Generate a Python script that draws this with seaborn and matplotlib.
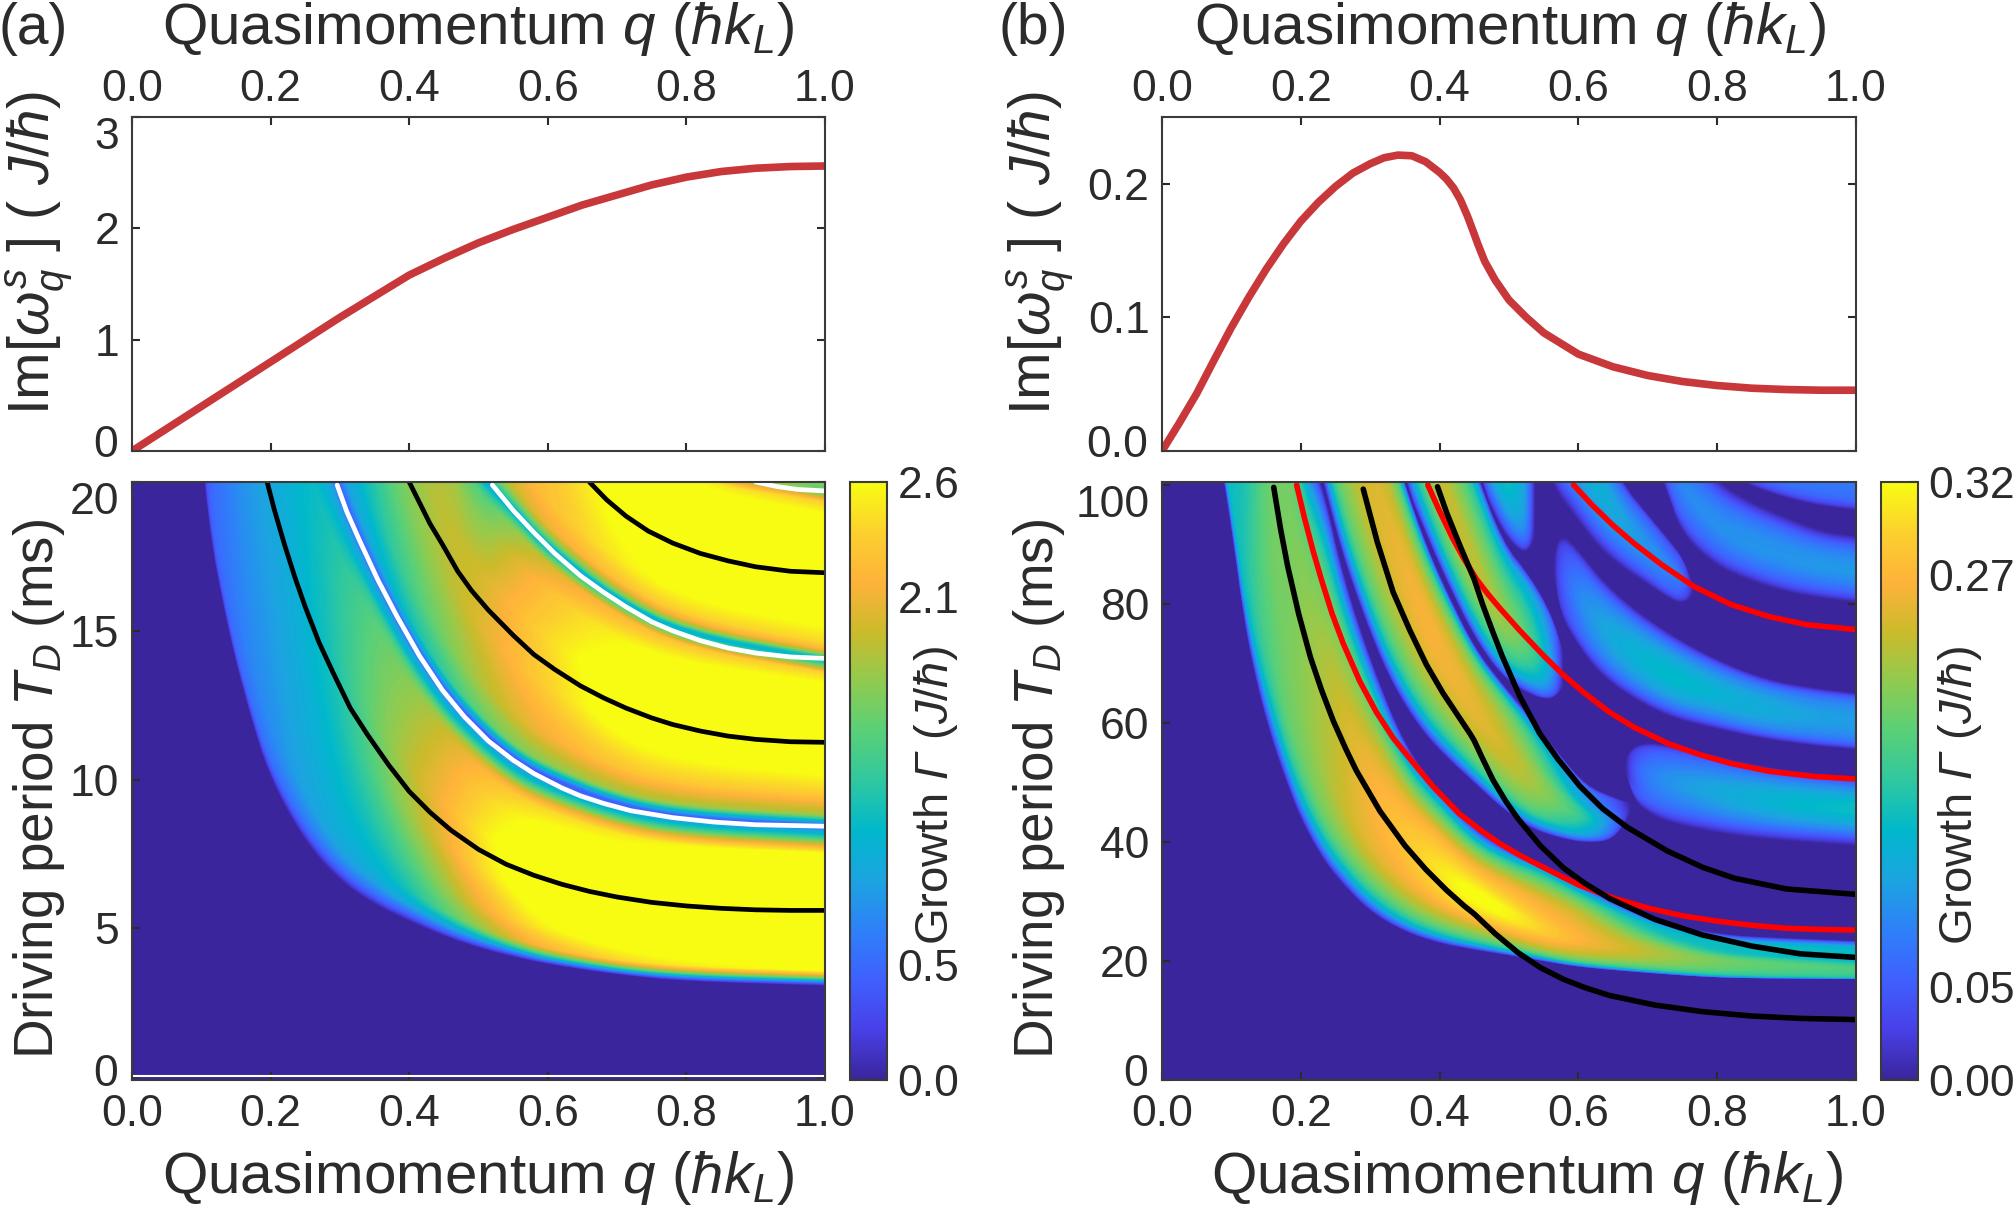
import numpy as np
import matplotlib
matplotlib.use("Agg")
import matplotlib.pyplot as plt
from matplotlib.cm import ScalarMappable
from matplotlib.colors import Normalize
import seaborn as sns

# ---- top curves
top_q = [0, .05, .1, .15, .2, .25, .3, .35, .4, .45, .5, .55, .6, .65, .7, .75, .8, .85, .9, .95, 1]
top_a = [0, .2, .4, .6, .8, 1.0, 1.2, 1.39, 1.58, 1.73, 1.87, 1.99, 2.1, 2.21, 2.3, 2.39, 2.46, 2.51, 2.54, 2.555, 2.56]
top_b_q = [0, .025, .05, .075, .1, .125, .15, .175, .2, .225, .25, .275, .3, .32, .34, .36, .38, .4, .41, .42, .43,
           .44, .448, .455, .465, .48, .5, .525, .55, .6, .65, .7, .75, .8, .85, .9, .95, 1]
top_b = [0, .021, .043, .068, .0925, .115, .136, .155, .172, .186, .198, .208, .215, .2195, .2215, .221, .2165, .2085,
         .2035, .197, .188, .176, .165, .155, .142, .128, .113, .1, .0885, .0725, .063, .0565, .052, .049, .047, .046,
         .0455, .0455]

# ---- colour bar colours, bottom to top
bar_colors = ["#3A259C", "#4840E8", "#4060FF", "#2E80F8", "#1CA4E0", "#00B8CC", "#2EC8A0", "#58D078",
              "#8FCB50", "#CBBB2B", "#FFB23A", "#FBD02E", "#F8FC12"]

# ---- panel a resonance lines
a_black1_q = [.195, .205, .22, .235, .25, .27, .29, .315, .34, .37, .4, .43, .46, .5, .54, .58, .62, .66, .7, .75, .8, .85, .9, .95, 1]
a_black1_T = [20, 19.1, 17.9, 16.8, 15.8, 14.6, 13.6, 12.4, 11.5, 10.5, 9.6, 8.9, 8.3, 7.65, 7.15, 6.78, 6.48, 6.24, 6.05, 5.87, 5.75, 5.67, 5.62, 5.6, 5.6]
a_black2_q = [.4, .415, .43, .448, .47, .49, .514, .55, .58, .61, .647, .68, .713, .75, .78, .82, .86, .9, .95, 1]
a_black2_T = [20, 19.3, 18.6, 17.9, 17.0, 16.35, 15.7, 14.85, 14.2, 13.7, 13.15, 12.75, 12.4, 12.07, 11.85, 11.63, 11.46, 11.35, 11.27, 11.25]
a_black3_q = [.66, .685, .713, .745, .78, .82, .86, .9, .95, 1]
a_black3_T = [20, 19.4, 18.85, 18.35, 17.95, 17.6, 17.35, 17.15, 17, 16.95]
a_white1_q = [0, 1]
a_white1_T = [.04, .04]
a_white2_q = [.296, .31, .329, .355, .382, .415, .448, .48, .514, .55, .58, .62, .647, .68, .72, .78, .84, .9, 1]
a_white2_T = [19.9, 19.0, 18, 16.7, 15.5, 14.15, 13, 12.1, 11.3, 10.65, 10.2, 9.72, 9.45, 9.2, 8.95, 8.72, 8.57, 8.48, 8.43]
a_white3_q = [.52, .55, .58, .61, .647, .68, .713, .75, .78, .82, .86, .9, .95, 1]
a_white3_T = [19.9, 19.05, 18.3, 17.6, 16.85, 16.3, 15.8, 15.3, 15, 14.67, 14.42, 14.25, 14.12, 14.07]
a_white4_q = [.9, .93, .96, 1]
a_white4_T = [20, 19.85, 19.75, 19.7]

# ---- panel a growth map on curved rows
a_q = [.09, .11, .14, .17, .2, .25, .3, .35, .4, .45, .5, .55, .6, .7, .8, 1]
a_T = [
    [24, 18.5, 14.9, 12.2, 10, 7.9, 6.6, 5.8, 5.25, 4.75, 4.35, 4.05, 3.8, 3.45, 3.22, 3.08],
    [24.6, 19, 15.3, 12.6, 10.4, 8.3, 6.95, 6.1, 5.5, 4.95, 4.52, 4.2, 3.92, 3.55, 3.33, 3.2],
    [26, 20, 16.2, 13.3, 11.1, 9.0, 7.5, 6.6, 5.9, 5.3, 4.8, 4.42, 4.12, 3.74, 3.53, 3.4],
    [28, 21.5, 17.4, 14.3, 12, 9.8, 8.2, 7.2, 6.4, 5.7, 5.12, 4.72, 4.4, 4.0, 3.8, 3.65],
    [44, 34, 27.5, 23, 19.6, 15.8, 13.1, 11.2, 9.6, 8.5, 7.65, 7.1, 6.7, 6.05, 5.75, 5.6],
    [58, 45.6, 36, 29.8, 25.5, 20.5, 17.2, 14.9, 12.9, 11.37, 10.27, 9.4, 8.82, 8.03, 7.64, 7.4],
    [60.7, 47.8, 37.7, 31.2, 26.7, 21.5, 18.0, 15.6, 13.5, 11.9, 10.75, 9.83, 9.24, 8.41, 8.0, 7.75],
    [62.6, 49.3, 38.9, 32.3, 27.5, 22.2, 18.6, 16.1, 13.95, 12.29, 11.1, 10.15, 9.54, 8.68, 8.26, 8.0],
    [64.6, 50.9, 40.1, 33.3, 28.4, 22.9, 19.2, 16.6, 14.4, 12.68, 11.45, 10.48, 9.84, 8.96, 8.52, 8.25],
    [66, 52, 41, 34, 29, 23.4, 19.6, 17, 14.7, 12.95, 11.7, 10.7, 10.05, 9.15, 8.7, 8.43],
    [67.3, 53, 41.8, 34.7, 29.6, 23.9, 20, 17.3, 15, 13.2, 11.93, 10.91, 10.25, 9.33, 8.87, 8.6],
    [69.7, 54.9, 43.3, 35.9, 30.6, 24.7, 20.7, 17.95, 15.5, 13.68, 12.36, 11.3, 10.61, 9.66, 9.19, 8.9],
    [90, 70, 55, 45, 39, 31, 26, 22.6, 20, 17.8, 16.2, 14.9, 13.9, 12.6, 11.8, 11.25],
    [108, 84, 66, 54, 46.8, 37.2, 31.2, 27.1, 24, 21.4, 19.5, 18.3, 17.1, 15.4, 14.3, 13.5],
    [110, 86, 68, 55, 48, 38.4, 32, 27.7, 24.6, 21.9, 20, 18.8, 17.5, 15.8, 14.66, 13.85],
    [112, 87.5, 69, 56, 49, 39, 32.5, 28.2, 25, 22.3, 20.3, 19.1, 17.8, 16.05, 14.9, 14.07],
    [114, 89, 70, 57, 50, 39.6, 33, 28.7, 25.4, 22.7, 20.6, 19.4, 18.1, 16.3, 15.14, 14.3],
    [117, 91.4, 72, 58.5, 51.2, 40.8, 34, 29.5, 26.1, 23.3, 21.2, 20, 18.6, 16.8, 15.6, 14.7],
    [136, 106, 84, 68, 59, 47, 39.5, 34, 30, 27, 24.7, 23, 21.6, 19.1, 17.8, 16.9],
    [155, 120, 96, 78, 67, 54, 45, 39, 34.5, 31, 28.2, 26.2, 24.4, 21.7, 19.9, 19.2],
    [160, 124, 99, 80, 69, 55.5, 46.2, 40, 35.4, 31.8, 29, 27, 25, 22.3, 20.4, 19.7],
    [165, 128, 102, 82, 71, 57, 47.6, 41.2, 36.5, 32.8, 29.9, 27.8, 25.8, 23, 21, 20.3],
]
a_G = [
    [0] * 16,
    [0, .4, .5, .5, .5, .5, .5, .5, .5, .55, .55, .55, .6, .6, .6, .6],
    [0, .5, .55, .6, .65, .75, .85, .9, 1.0, 1.1, 1.2, 1.4, 1.6, 1.8, 1.9, 2.0],
    [0, .5, .6, .7, .75, .9, 1.0, 1.05, 1.25, 1.6, 1.9, 2.2, 2.4, 2.6, 2.7, 2.8],
    [0, .6, .8, .85, .9, 1.05, 1.25, 1.6, 1.95, 2.2, 2.55, 2.8, 3, 3, 3, 3],
    [0, .6, .85, .95, 1.0, 1.1, 1.3, 1.55, 1.75, 2.0, 2.25, 2.45, 2.55, 2.6, 2.7, 2.8],
    [0, .6, .85, .95, 1.0, 1.0, 1.15, 1.45, 1.6, 1.85, 1.95, 2.0, 2.05, 2.15, 2.15, 2.15],
    [0, .6, .8, .9, .9, .9, 1.0, 1.1, 1.2, 1.25, 1.3, 1.3, 1.35, 1.4, 1.4, 1.4],
    [0, .5, .7, .7, .7, .7, .75, .75, .8, .85, .85, .85, .85, .9, .9, .9],
    [0, .3, .35, .35, .35, .35, .3, .25, .25, .2, .2, .2, .25, .3, .3, .3],
    [0, .4, .5, .55, .55, .55, .6, .7, .7, .75, .85, .9, .9, .95, .95, .95],
    [0, .6, .7, .8, .8, .8, .9, 1.1, 1.3, 1.5, 1.75, 1.9, 2.0, 2.1, 2.1, 2.1],
    [0, .8, .9, 1, 1, 1, 1.1, 1.5, 1.75, 1.95, 2.1, 2.3, 2.5, 2.9, 3, 3],
    [0, .8, .9, 1, 1, 1, 1.1, 1.5, 1.7, 1.85, 1.5, 1.9, 2.2, 2.45, 2.6, 2.7],
    [0, .6, .7, .8, .8, .8, .9, 1.1, 1.2, 1.3, 1.2, 1.3, 1.4, 1.5, 1.5, 1.4],
    [0, .4, .5, .5, .5, .5, .6, .7, .7, .8, .8, .75, .7, .8, .85, .9],
    [0, .6, .7, .8, .8, .8, .9, 1, 1.1, 1.3, 1.4, 1.5, 1.6, 1.8, 2.0, 2.1],
    [0, .8, .9, 1, 1, 1, 1.1, 1.3, 1.4, 1.6, 1.7, 2.1, 2.25, 2.45, 2.5, 2.5],
    [0, 1, 1, 1.2, 1.2, 1.3, 1.4, 1.6, 1.8, 2, 2.1, 2.2, 2.3, 2.7, 3, 3],
    [0, 1, 1, 1.2, 1.2, 1.3, 1.4, 1.6, 1.8, 2, 2.1, 2.2, 2.3, 2.7, 2.7, 2.7],
    [0, 1, 1, 1.2, 1.2, 1.3, 1.4, 1.6, 1.8, 2, 2.1, 2.2, 2.3, 2.5, 2.0, 1.3],
    [0, 1, 1, 1.2, 1.2, 1.3, 1.4, 1.6, 1.8, 2, 2.1, 2.2, 2.3, 2.5, 2.2, 2.2],
]

# ---- panel b resonance lines
b_red1_q = [.194, .205, .2175, .23, .245, .261, .285, .309, .333, .36, .39, .429, .46, .486, .515, .55, .6, .65, .7, .75, .8, .85, .9, .95, 1]
b_red1_T = [100, 94.6, 89, 84, 78.4, 73.4, 67, 61.8, 57.5, 53.6, 49.4, 44.7, 41.9, 39.8, 37.8, 35.7, 32.8, 30.6, 28.9, 27.6, 26.7, 26, 25.5, 25.3, 25.2]
b_red2_q = [.383, .4, .419, .435, .453, .47, .486, .515, .55, .578, .61, .645, .68, .73, .777, .82, .874, .94, 1]
b_red2_T = [100, 95.6, 91, 87.6, 84.2, 81.6, 79.4, 75.6, 71.3, 68.1, 64.9, 61.8, 59.3, 56.5, 54.6, 53.2, 51.9, 51, 50.6]
b_red3_q = [.593, .62, .65, .68, .72, .767, .82, .874, .93, 1]
b_red3_T = [100, 96.6, 93.2, 90.2, 86.6, 82.9, 79.9, 77.9, 76.5, 75.7]
b_black1_q = [.161, .171, .181, .197, .214, .23, .247, .265, .28, .314, .35, .38, .41, .435, .45, .46, .48, .513, .545, .579, .61, .645, .71, .778, .85, .92, 1]
b_black1_T = [99.6, 92.5, 86.4, 78.3, 71, 65.5, 60.3, 55.6, 52, 45.2, 39.4, 35.4, 31.9, 29.3, 27.9, 26.8, 24.6, 21.4, 18.9, 16.9, 15.5, 14.2, 12.6, 11.5, 10.75, 10.35, 10.15]
b_black2_q = [.29, .31, .333, .357, .381, .405, .429, .445, .45, .462, .477, .495, .513, .545, .579, .61, .645, .71, .778, .85, .92, 1]
b_black2_T = [99.3, 90.5, 82, 75.6, 69.8, 65, 60.8, 58, 57, 54, 50.4, 46.9, 43.9, 39.4, 35.6, 33, 30.5, 27, 24.4, 22.5, 21.2, 20.6]
b_black3_q = [.397, .41, .429, .45, .462, .477, .49, .515, .544, .57, .602, .635, .67, .728, .78, .825, .9, 1]
b_black3_T = [99.7, 95.4, 89.9, 84.1, 79.9, 75.2, 71.3, 64.6, 58.3, 54, 49.4, 45.6, 42.5, 38.5, 35.7, 33.9, 32.1, 31.2]

# ---- panel b main band
main_q = [.085, .1, .12, .14, .16, .18, .2, .23, .26, .3, .35, .4, .45, .5, .55, .6, .7, .8, .9, 1]
main_T = [
    [104, 93, 76, 65, 56.7, 50, 44, 37.5, 33, 28.3, 24.9, 23, 21.9, 21, 20, 19, 18, 17.2, 17.05, 17],
    [105.2, 94.4, 77.7, 66.8, 58.5, 51.5, 45.3, 38.6, 34, 29.1, 25.5, 23.5, 22.3, 21.3, 20.2, 19.2, 18.15, 17.3, 17.15, 17.07],
    [107.7, 97.2, 81, 70.4, 62, 54.4, 48, 40.9, 35.9, 30.7, 26.7, 24.4, 23, 21.8, 20.6, 19.5, 18.4, 17.55, 17.3, 17.2],
    [112, 102, 87, 76.7, 68.2, 59.6, 52.6, 44.9, 39.2, 33.6, 28.8, 26, 24.3, 22.8, 21.3, 20.1, 18.9, 18, 17.65, 17.47],
    [119, 110, 96, 86.6, 78, 67.8, 59.8, 51.2, 44.5, 38, 32.1, 28.5, 26.3, 24.3, 22.4, 21, 19.7, 18.6, 18.1, 17.86],
    [125, 117, 104.6, 95.6, 86.8, 75.2, 66.4, 56.9, 49.3, 42, 35.2, 30.8, 28.1, 25.6, 23.4, 21.9, 20.45, 19.2, 18.6, 18.2],
    [135, 128, 118, 110, 101, 87, 77, 66, 57, 48.5, 40, 34.5, 31, 27.8, 25, 23.2, 21.6, 20.2, 19.3, 18.8],
    [150, 140, 128, 120, 110, 95, 84, 72, 62, 53, 44, 38, 33.5, 30.3, 27.5, 25.5, 22.8, 20.7, 20, 19.4],
    [160, 150, 138, 130, 118, 102, 90, 78, 67, 58, 47.5, 41, 36, 33, 30.5, 28, 24.2, 21.2, 20.7, 20],
    [172, 160, 150, 140, 128, 110, 96, 85, 73, 62, 50.5, 44, 38.5, 35.3, 33, 30, 25.2, 22, 21.5, 20.7],
    [180, 170, 158, 148, 135, 117, 101, 92, 79, 66, 53, 46.2, 40, 37, 34.8, 31.5, 26, 23, 22.7, 22],
    [186, 175, 164, 153, 140, 122, 106, 98, 83, 69, 55, 47.8, 41.5, 38, 35.8, 32.5, 26.7, 24, 23.4, 23],
    [190, 178, 168, 156, 143, 125, 109, 100.5, 85, 70.5, 56, 48.5, 42, 38.6, 36.3, 33.2, 27, 24.4, 23.8, 23.3],
]
main_G = [
    [0] * 20,
    [.06] * 20,
    [.14] * 20,
    [.13, .14, .15, .17, .18, .19, .19, .2, .2, .2, .2, .2, .2, .2, .2, .19, .18, .17, .165, .16],
    [.13, .14, .15, .18, .19, .2, .205, .22, .235, .25, .25, .25, .25, .25, .245, .23, .21, .185, .175, .17],
    [.12, .135, .145, .18, .2, .2, .21, .225, .24, .26, .27, .285, .295, .285, .265, .25, .225, .195, .18, .175],
    [.12, .13, .14, .18, .2, .2, .21, .225, .24, .265, .285, .31, .335, .325, .295, .27, .235, .2, .19, .18],
    [.12, .13, .14, .18, .2, .2, .21, .225, .245, .26, .275, .295, .3, .29, .275, .26, .22, .18, .17, .16],
    [.12, .13, .14, .18, .2, .2, .2, .215, .23, .235, .25, .265, .26, .26, .25, .245, .17, .15, .13, .13],
    [.12, .13, .14, .17, .19, .18, .18, .19, .205, .2, .2, .2, .2, .2, .2, .2, .14, .14, .14, .13],
    [.14] * 20,
    [.06] * 20,
    [0] * 20,
]

# ---- panel b second band
second_q = [.2, .234, .26, .288, .32, .35, .38, .41, .45, .49, .53, .57, .61, .65, .675]
second_T = [
    [115, 100, 88.5, 79, 69.5, 63, 58, 54.3, 50, 45.7, 42.4, 40.8, 39.9, 40.3, 45],
    [116.7, 101.7, 90, 80.4, 70.8, 64.1, 59, 55.1, 50.7, 46.3, 43, 41.2, 40.2, 40.5, 45],
    [120, 105, 93.1, 83.1, 73.3, 66.3, 60.9, 56.8, 52, 47.6, 44.1, 42.1, 40.8, 41, 45.1],
    [126, 111, 98.8, 88.2, 78, 70.4, 64.4, 59.8, 54.5, 49.9, 46.1, 43.6, 41.8, 41.7, 45.3],
    [139.8, 124.8, 111.7, 99.7, 88.6, 79.7, 72.4, 66.8, 60.2, 55.1, 50.8, 47.2, 44.2, 43.5, 45.7],
    [153.5, 138.5, 124.6, 111.2, 99.3, 88.9, 80.4, 73.7, 65.8, 60.3, 55.4, 50.7, 46.6, 45.3, 46],
    [162.9, 147.9, 133.3, 119, 106.5, 95.2, 85.8, 78.4, 69.7, 63.8, 58.6, 53.1, 48.3, 46.6, 46.3],
    [167.3, 152.3, 137.4, 122.7, 109.9, 98.2, 88.4, 80.6, 71.5, 65.5, 60.1, 54.3, 49, 47.1, 46.4],
    [170, 155, 140, 125, 112, 100, 90, 82, 72.6, 66.5, 61, 55, 49.5, 47.5, 46.5],
]
second_G = [
    [0] * 15,
    [.06, .06, .06, .06, .06, .06, .06, .06, .06, .06, .06, .06, .05, .03, 0],
    [.14, .14, .14, .14, .14, .14, .14, .14, .14, .14, .14, .12, .1, .05, 0],
    [.16, .2, .2, .2, .2, .2, .2, .2, .2, .2, .2, .17, .13, .07, 0],
    [.17, .22, .235, .245, .25, .255, .26, .26, .255, .25, .235, .205, .17, .08, 0],
    [.17, .22, .24, .245, .25, .26, .265, .26, .25, .23, .2, .15, .1, .06, 0],
    [.18, .2, .2, .2, .2, .2, .2, .2, .2, .19, .16, .12, .08, .05, 0],
    [.14, .14, .14, .14, .14, .14, .14, .14, .13, .12, .1, .08, .06, .04, 0],
    [0] * 15,
]

# ---- panel b third band
third_q = [.3, .352, .38, .41, .45, .49, .53, .56, .578]
third_T = [
    [125, 100, 92, 84, 74.5, 67.8, 64.8, 63.8, 66],
    [126.8, 101.5, 93.2, 85, 75.4, 68.5, 65.4, 64.2, 66.2],
    [131, 105, 96, 87.3, 77.4, 70.1, 66.8, 65.3, 66.6],
    [137, 110, 100, 90.6, 80.2, 72.3, 68.8, 66.7, 67.2],
    [149, 120, 108, 97.2, 85.9, 76.9, 72.8, 69.7, 68.4],
    [165.8, 134, 119.2, 106.4, 93.9, 83.2, 78.3, 73.8, 70.1],
    [179, 145, 128, 113.7, 100.2, 88.2, 82.7, 77, 71.4],
    [183.2, 148.5, 130.8, 116, 102.2, 89.8, 84.1, 78.1, 71.8],
    [185, 150, 132, 117, 103, 90.5, 84.7, 78.5, 72],
]
third_G = [
    [0] * 9,
    [.06, .06, .06, .06, .06, .06, .05, .05, 0],
    [.14, .14, .14, .14, .14, .13, .11, .08, 0],
    [.19, .19, .19, .19, .19, .18, .16, .1, 0],
    [.22, .24, .245, .25, .245, .23, .19, .12, 0],
    [.19, .2, .2, .2, .2, .19, .16, .1, 0],
    [.14, .14, .14, .14, .14, .13, .11, .08, 0],
    [.06, .06, .06, .06, .06, .06, .05, .04, 0],
    [0] * 9,
]

# ---- panel b short band at the top
fourth_q = [.42, .46, .49, .51, .525, .537]
fourth_T = [
    [122, 100, 92.5, 89.5, 88.6, 91],
    [124, 102, 94.2, 91, 89.6, 91.8],
    [129, 107.5, 99, 94.8, 92.5, 93.8],
    [141, 120, 109.5, 104, 99.2, 98.6],
    [170, 150, 135, 125, 115, 110],
]
fourth_G = [
    [0] * 6,
    [.06, .06, .06, .06, .05, 0],
    [.14, .14, .14, .12, .09, 0],
    [.17, .17, .17, .14, .1, 0],
    [.15, .15, .15, .12, .08, 0],
]

# ---- panel b islands on the right
fifth_q = [.565, .575, .6, .63, .67, .73, .8, .87, .94, 1]
fifth_T = [
    [85, 78, 73, 68.4, 64.8, 61, 59, 57.3, 56.2, 55.6],
    [85.3, 79.4, 74.6, 70, 66.3, 62.4, 60.2, 58.3, 57.2, 56.5],
    [85.75, 81.5, 77, 72.4, 68.6, 64.5, 61.9, 59.8, 58.6, 58],
    [86.5, 85, 81, 76.5, 72.4, 68, 64.8, 62.3, 61, 60.3],
    [87.25, 88.5, 85, 80.5, 76.2, 71.5, 67.6, 64.8, 63.4, 62.7],
    [87.7, 90.6, 87.4, 83, 78.5, 73.6, 69.4, 66.3, 64.8, 64.1],
    [88, 92, 89, 84.5, 80, 75, 70.5, 67.3, 65.8, 65],
]
fifth_G = [
    [0] * 10,
    [0, .03, .05, .05, .06, .06, .06, .06, .06, .06],
    [0, .04, .07, .09, .1, .11, .1, .1, .09, .09],
    [0, .05, .09, .11, .13, .145, .135, .12, .11, .105],
    [0, .04, .07, .09, .1, .11, .1, .1, .09, .09],
    [0, .03, .05, .05, .06, .06, .06, .06, .06, .06],
    [0] * 10,
]

sixth_q = [.52, .564, .6, .63, .665, .7, .73, .75, .765]
sixth_T = [
    [112, 99.5, 94, 89.4, 86, 83.4, 81, 80, 81.5],
    [115.4, 102.6, 96.5, 91.6, 87.7, 84.8, 82.2, 80.9, 81.7],
    [120.4, 107.2, 100.3, 95, 90.2, 86.9, 83.9, 82.3, 82],
    [127.4, 113.5, 105.6, 99.6, 93.7, 89.8, 86.4, 84.3, 82.3],
    [134.4, 119.9, 110.8, 104.3, 97.2, 92.7, 88.8, 86.2, 82.7],
    [138, 123.2, 113.5, 106.7, 99, 94.2, 90.1, 87.3, 82.9],
    [140, 125, 115, 108, 100, 95, 90.8, 87.8, 83],
]
sixth_G = [
    [0] * 9,
    [.05, .05, .05, .05, .05, .05, .05, .04, 0],
    [.1, .1, .1, .095, .085, .08, .07, .06, 0],
    [.13, .14, .14, .13, .115, .1, .09, .08, 0],
    [.1, .1, .1, .09, .08, .07, .06, .05, 0],
    [.05, .05, .05, .05, .05, .05, .04, .04, 0],
    [0] * 9,
]

seventh_q = [.7, .726, .75, .8, .85, .9, .95, 1]
seventh_T = [
    [108, 99.5, 91.5, 86.3, 83.8, 82, 81, 80.3],
    [110, 101.4, 93.5, 88, 85.4, 83.5, 82.3, 81.6],
    [113.1, 104.2, 96.6, 90.7, 87.8, 85.8, 84.4, 83.6],
    [116.5, 107.3, 99.8, 93.4, 90.4, 88.3, 86.6, 85.9],
    [121.6, 112, 104.6, 97.5, 94.4, 92, 90, 89.2],
    [125, 115, 108, 100.5, 97, 94.5, 92.2, 91.4],
]
seventh_G = [
    [0] * 8,
    [.05] * 8,
    [.07, .07, .075, .08, .085, .085, .085, .085],
    [.06, .08, .09, .095, .1, .1, .105, .105],
    [.05, .05, .06, .065, .07, .07, .07, .07],
    [0] * 8,
]

eighth_q = [.8, .845, .9, .95, 1]
eighth_T = [
    [103, 100, 97.8, 96.5, 95.8],
    [104, 101, 98.8, 97.5, 96.8],
    [106, 103, 100.8, 99.5, 98.8],
    [120, 118, 115, 113, 112],
]
eighth_G = [
    [0] * 5,
    [.05] * 5,
    [.075] * 5,
    [.09] * 5,
]

ninth_q = [.668, .68, .7, .73, .78, .83, .9, 1]
ninth_T = [
    [52, 47.2, 45, 43.3, 42, 41, 40.2, 39.4],
    [52.2, 48.3, 46.4, 44.8, 43.6, 42.5, 41.6, 40.8],
    [52.6, 49.8, 48.5, 47.2, 45.9, 44.8, 43.7, 42.8],
    [53.1, 52, 51.4, 50.4, 49.2, 47.9, 46.7, 45.7],
    [53.6, 54.2, 54.4, 53.6, 52.4, 51, 49.6, 48.5],
    [53.9, 55.4, 55.9, 55.3, 54.1, 52.6, 51.2, 50],
    [54, 56, 56.7, 56.2, 55, 53.5, 52, 50.8],
]
ninth_G = [
    [0] * 8,
    [0, .05, .05, .05, .05, .05, .05, .05],
    [0, .04, .07, .08, .09, .1, .105, .11],
    [0, .05, .08, .1, .115, .125, .14, .15],
    [0, .04, .06, .07, .08, .09, .1, .1],
    [0, .03, .04, .05, .05, .05, .05, .05],
    [0] * 8,
]

q_ticks = [0, .2, .4, .6, .8, 1]
q_labels = ["0.0", "0.2", "0.4", "0.6", "0.8", "1.0"]
INK = "#2b2b2b"
W, H = 2015, 1211


def px_axes(fig, left, top, right, bottom):
    return fig.add_axes([left / W, 1 - bottom / H, (right - left) / W, (bottom - top) / H])


def style_axes(ax):
    ax.tick_params(direction="in", length=6, width=1.5, top=True, right=True, bottom=True, left=True,
                   labelsize=TICK_SIZE, colors=INK)
    for s in ax.spines.values():
        s.set_visible(True)
        s.set_linewidth(1.5)
        s.set_color("#3a3a3a")
    ax.grid(False)


def round_off(a, axis):
    # cuts the corners of the drawn mesh so the map does not look faceted, the ends stay put
    a = np.moveaxis(a, axis, 0)
    first = .75 * a[:-1] + .25 * a[1:]
    second = .25 * a[:-1] + .75 * a[1:]
    mid = np.empty((first.shape[0] * 2,) + a.shape[1:])
    mid[0::2] = first
    mid[1::2] = second
    return np.moveaxis(np.concatenate([a[:1], mid, a[-1:]]), 0, axis)


def draw_band(ax, q, T, G, levels, cmap, vmax):
    X = np.tile(q, (len(T), 1)).astype(float)
    Y = np.array(T, dtype=float)
    Z = np.array(G, dtype=float)
    for axis in (1, 1, 0):
        X, Y, Z = round_off(X, axis), round_off(Y, axis), round_off(Z, axis)
    ax.contourf(X, Y, Z, levels=levels, cmap=cmap, vmin=0, vmax=vmax, extend="max")


def draw_line(ax, q, T, color, lw=3.4):
    sns.lineplot(x=q, y=T, color=color, linewidth=lw, estimator=None, sort=False, ax=ax, legend=False)


def zero_label(ax, text):
    # the reference lifts the lowest y label a little off the corner
    ax.annotate(text, xy=(0, 0), xycoords="axes fraction", xytext=(-10, 4), textcoords="offset points",
                ha="right", va="center", fontsize=TICK_SIZE, color=INK)


def top_panel(ax, q, y, ylim, yticks, ylabels):
    sns.lineplot(x=q, y=y, color="#C8383A", linewidth=5.5, estimator=None, sort=False, ax=ax, legend=False)
    ax.set_xlim(0, 1)
    ax.set_ylim(*ylim)
    style_axes(ax)
    ax.xaxis.tick_top()
    ax.tick_params(top=True, bottom=True, labeltop=True, labelbottom=False)
    ax.tick_params(axis="x", pad=5)
    ax.tick_params(axis="y", pad=9)
    ax.set_xticks(q_ticks, q_labels)
    ax.set_yticks(yticks, [""] + ylabels[1:])
    zero_label(ax, ylabels[0])
    ax.set_xlabel("")
    ax.set_ylabel("")
    if len(ylabels) == 4:
        ax.get_yticklabels()[-1].set_va("top")


def heat_panel(ax, ylim, yticks):
    ax.set_xlim(0, 1)
    ax.set_ylim(*ylim)
    style_axes(ax)
    ax.tick_params(axis="x", pad=10)
    ax.tick_params(axis="y", pad=9)
    ax.set_xticks(q_ticks, q_labels)
    ax.set_yticks(yticks, [""] + [str(t) for t in yticks[1:]])
    zero_label(ax, str(yticks[0]))
    ax.set_xlabel("")
    ax.set_ylabel("")
    ax.get_yticklabels()[-1].set_va("top")


def color_bar(fig, cax, cmap, vmax, ticks, labels):
    cb = fig.colorbar(ScalarMappable(Normalize(0, vmax), cmap), cax=cax)
    cb.set_ticks(ticks, labels=labels)
    cb.ax.tick_params(direction="in", length=6, width=1.5, labelsize=TICK_SIZE, colors=INK, pad=7.5)
    cb.outline.set_linewidth(1.5)
    cb.outline.set_edgecolor("#3a3a3a")


def label(fig, x, y, s, size, rotation=0):
    fig.text(x / W, 1 - y / H, s, rotation=rotation, ha="center", va="center", fontsize=size, color=INK)


sns.set_theme(style="ticks")
plt.rcParams["font.family"] = ["Liberation Sans", "DejaVu Sans"]
plt.rcParams["mathtext.fontset"] = "custom"
plt.rcParams["mathtext.rm"] = "Liberation Sans"
plt.rcParams["mathtext.it"] = "Liberation Sans:italic"
plt.rcParams["mathtext.cal"] = "Liberation Sans:italic"
plt.rcParams["mathtext.fallback"] = "stixsans"
TICK_SIZE = 32

cmap = sns.blend_palette(bar_colors, n_colors=256, as_cmap=True)
cmap.set_over(bar_colors[-1])
dark = bar_colors[0]

fig = plt.figure(figsize=(W / 100, H / 100), dpi=100)

# panel a
ax_top_a = px_axes(fig, 132, 117, 825, 451)
top_panel(ax_top_a, top_q, top_a, (0, 3), [0, 1, 2, 3], ["0", "1", "2", "3"])

ax_a = px_axes(fig, 132, 482, 825, 1080)
ax_a.set_facecolor(dark)
a_levels = np.linspace(.01, 2.6, 130)
draw_band(ax_a, a_q, a_T, a_G, a_levels, cmap, 2.6)
draw_line(ax_a, a_black1_q, a_black1_T, "black")
draw_line(ax_a, a_black2_q, a_black2_T, "black")
draw_line(ax_a, a_black3_q, a_black3_T, "black")
draw_line(ax_a, a_white1_q, a_white1_T, "white", lw=1.5)
draw_line(ax_a, a_white2_q, a_white2_T, "white")
draw_line(ax_a, a_white3_q, a_white3_T, "white")
draw_line(ax_a, a_white4_q, a_white4_T, "white")
heat_panel(ax_a, (-.1, 20), [0, 5, 10, 15, 20])

cax_a = px_axes(fig, 850, 482, 887, 1080)
color_bar(fig, cax_a, cmap, 2.6, [0, .5, 2.1, 2.6], ["0.0", "0.5", "2.1", "2.6"])

# panel b
ax_top_b = px_axes(fig, 1162, 117, 1856, 451)
top_panel(ax_top_b, top_b_q, top_b, (0, .25), [0, .1, .2], ["0.0", "0.1", "0.2"])

ax_b = px_axes(fig, 1162, 482, 1856, 1080)
ax_b.set_facecolor(dark)
b_levels = np.linspace(.001, .32, 130)
for q, T, G in [(main_q, main_T, main_G), (second_q, second_T, second_G), (third_q, third_T, third_G),
                (fourth_q, fourth_T, fourth_G), (fifth_q, fifth_T, fifth_G), (sixth_q, sixth_T, sixth_G),
                (seventh_q, seventh_T, seventh_G), (eighth_q, eighth_T, eighth_G), (ninth_q, ninth_T, ninth_G)]:
    draw_band(ax_b, q, T, G, b_levels, cmap, .32)
draw_line(ax_b, b_red1_q, b_red1_T, "#FF0000", lw=4)
draw_line(ax_b, b_red2_q, b_red2_T, "#FF0000", lw=4)
draw_line(ax_b, b_red3_q, b_red3_T, "#FF0000", lw=4)
draw_line(ax_b, b_black1_q, b_black1_T, "black", lw=4)
draw_line(ax_b, b_black2_q, b_black2_T, "black", lw=4)
draw_line(ax_b, b_black3_q, b_black3_T, "black", lw=4)
heat_panel(ax_b, (0, 100.5), [0, 20, 40, 60, 80, 100])

cax_b = px_axes(fig, 1881, 482, 1918, 1080)
color_bar(fig, cax_b, cmap, .32, [0, .05, .27, .32], ["0.00", "0.05", "0.27", "0.32"])

# text
q_label = r"Quasimomentum $q$ ($\hbar k_L$)"
label(fig, 478, 29, q_label, 42)
label(fig, 1510, 29, q_label, 42)
label(fig, 478, 1178, q_label, 42)
label(fig, 1527, 1178, q_label, 42)
label(fig, 33, 29, "(a)", 41)
label(fig, 1033, 29, "(b)", 41)
im_label = r"Im[$\omega_q^s$ ] ( $J/\hbar$)"
label(fig, 39, 253, im_label, 41, rotation=90)
label(fig, 1040, 253, im_label, 41, rotation=90)
period_label = r"Driving period $T_D$ (ms)"
label(fig, 39, 789, period_label, 39.5, rotation=90)
label(fig, 1039, 789, period_label, 39.5, rotation=90)
bar_label = r"Growth $\mathcal{\Gamma}$ ($J/\hbar$)"
label(fig, 936, 795, bar_label, 34, rotation=90)
label(fig, 1960, 795, bar_label, 34, rotation=90)

fig.savefig("out.png", dpi=100)
